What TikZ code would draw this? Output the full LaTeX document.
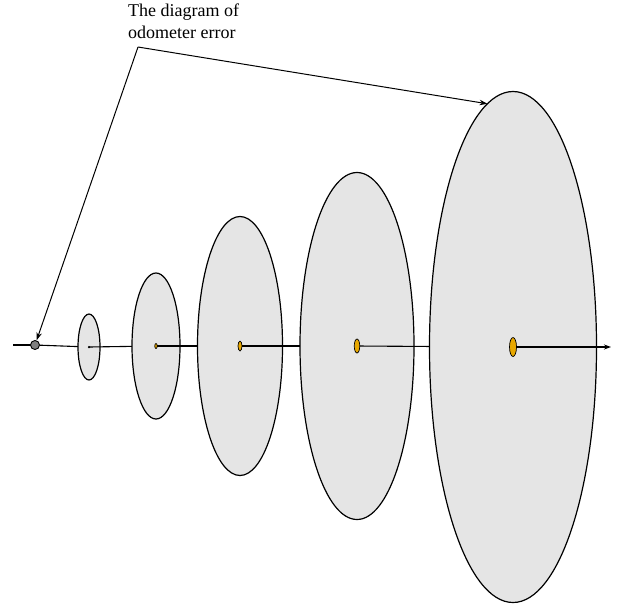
\documentclass[tikz,border=0pt]{standalone}
\usepackage{fontspec}
\setmainfont{Liberation Serif}
\usetikzlibrary{shapes.geometric,arrows.meta}
\definecolor{shell}{HTML}{E5E5E5}
\definecolor{core}{HTML}{E8A800}
\definecolor{dotgrey}{HTML}{808080}
\tikzset{
  shellell/.style={ellipse,draw=black,line width=1.2pt,fill=shell,inner sep=0pt,outer sep=0pt},
  coreell/.style={ellipse,draw=black,line width=0.7pt,fill=core,inner sep=0pt,outer sep=0pt},
  axis/.style={line width=1.1pt,draw=black},
  callout/.style={line width=1pt,draw=black,-{Stealth[length=8pt,width=5.5pt]}},
  lbl/.style={font=\fontsize{18}{22}\selectfont,align=left,inner sep=0pt,anchor=north west}
}
\begin{document}
\begin{tikzpicture}[x=1pt,y=-1pt]
\useasboundingbox (0,0) rectangle (620,608);
\coordinate (s0) at (13,345);
\coordinate (c1) at (89,347);
\coordinate (c2) at (156,346);
\coordinate (c3) at (240,346);
\coordinate (c4) at (357,346);
\coordinate (c5) at (513,347);
\coordinate (tip) at (611,347);
\coordinate (corner) at (138,47);

\draw[axis] (s0) -- (35,345);
\node[circle,draw=black,line width=0.9pt,fill=dotgrey,minimum size=9pt,inner sep=0pt] (dot) at (35,345) {};
\draw[axis] (dot) -- (c1);
\node[shellell,minimum width=22pt,minimum height=66pt] (e1) at (c1) {};
\node[circle,fill=black,minimum size=2.5pt,inner sep=0pt] (k1) at (c1) {};
\draw[axis] (c1) -- (c2);
\node[shellell,minimum width=48pt,minimum height=146pt] (e2) at (c2) {};
\node[coreell,minimum width=2.5pt,minimum height=5pt] (k2) at (c2) {};
\draw[axis] (k2) -- (c3);
\node[shellell,minimum width=85pt,minimum height=259pt] (e3) at (c3) {};
\node[coreell,minimum width=4pt,minimum height=10pt] (k3) at (c3) {};
\draw[axis] (k3) -- (c4);
\node[shellell,minimum width=114pt,minimum height=347pt] (e4) at (c4) {};
\node[coreell,minimum width=5.5pt,minimum height=14pt] (k4) at (c4) {};
\draw[axis] (k4) -- (c5);
\node[shellell,minimum width=167pt,minimum height=511pt] (e5) at (c5) {};
\node[coreell,minimum width=7pt,minimum height=19pt] (k5) at (c5) {};
\draw[axis,-{Stealth[length=7pt,width=5pt]}] (k5) -- (tip);

\node[lbl] (label) at (128,4) {The diagram of\\odometer error};
\draw[callout] (corner) -- (dot);
\draw[callout] (corner) -- (e5.96);
\end{tikzpicture}
\end{document}
